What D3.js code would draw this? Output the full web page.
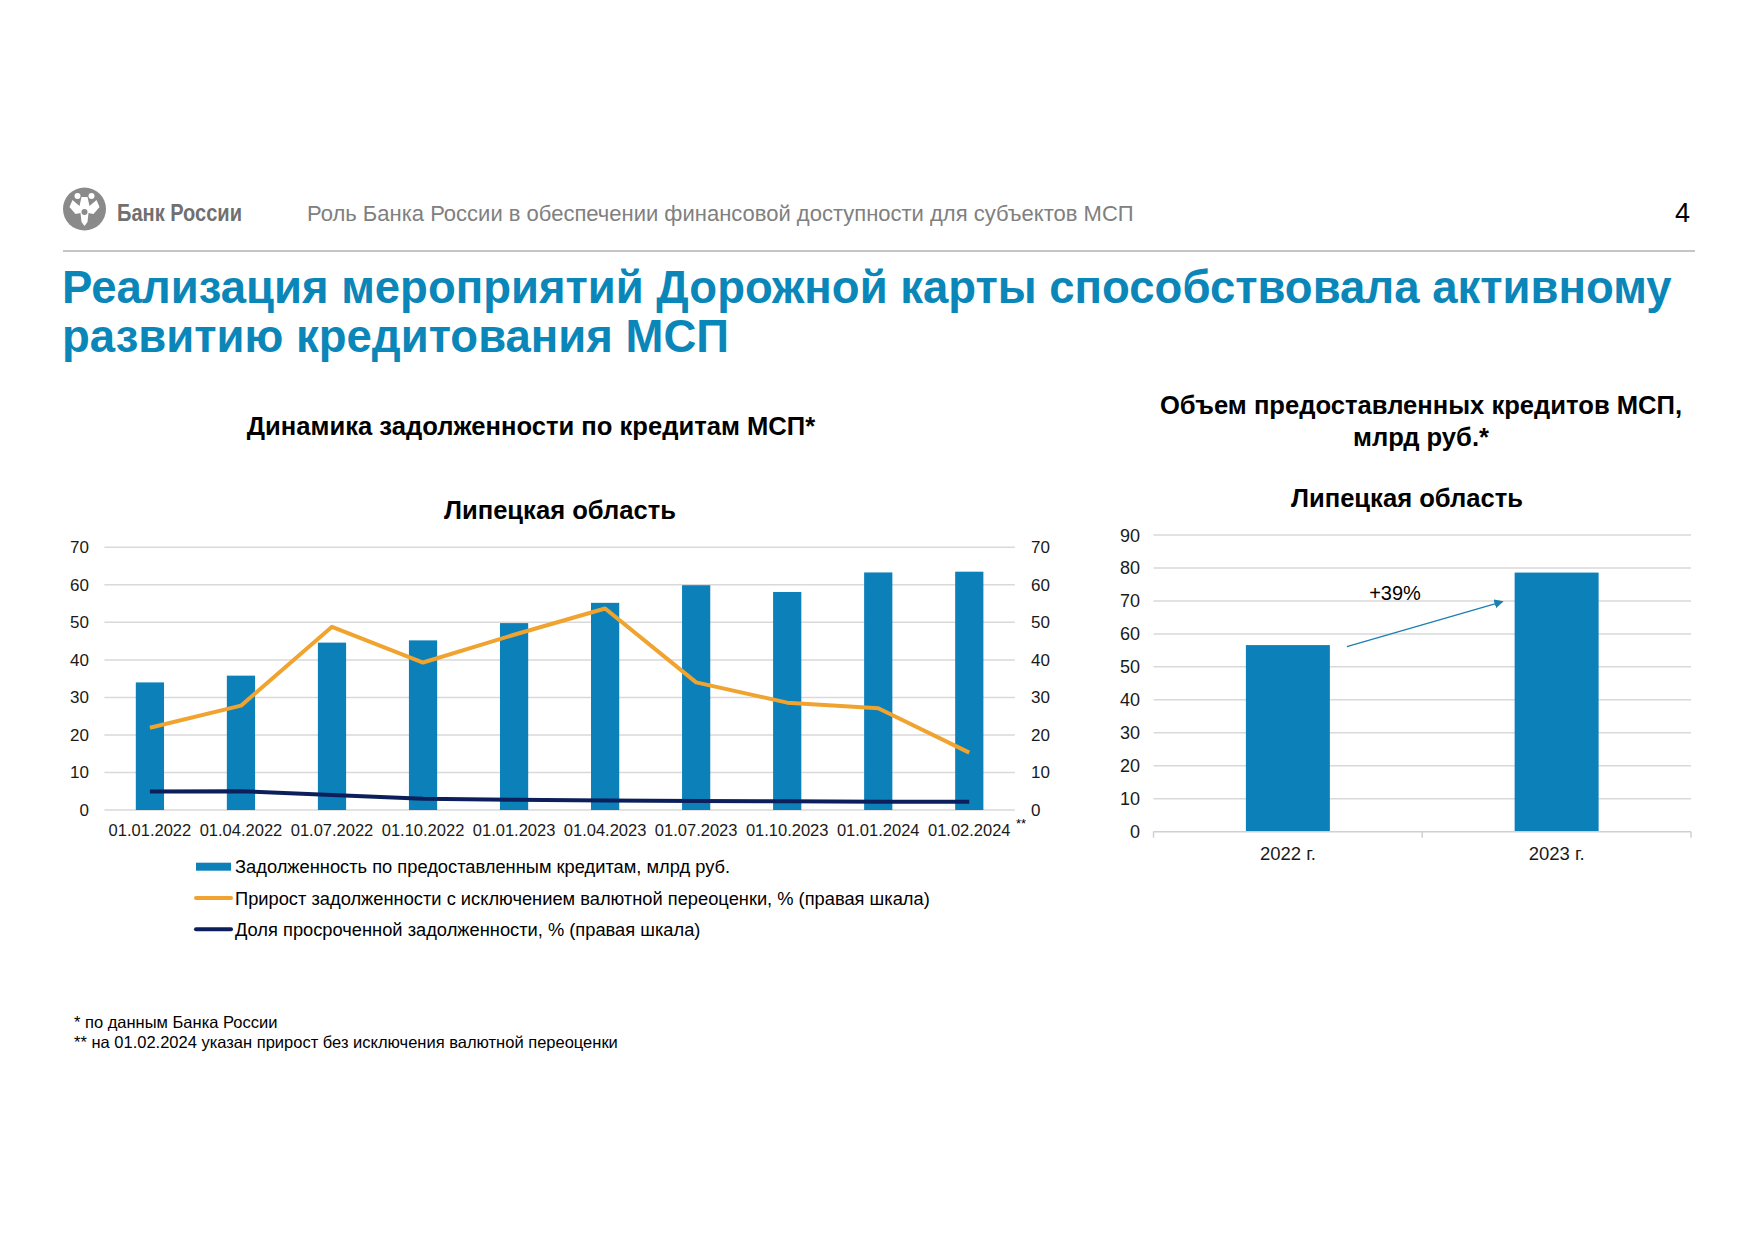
<!DOCTYPE html>
<html lang="ru">
<head>
  <meta charset="UTF-8">
  <script src="https://d3js.org/d3.v7.min.js"></script>
  <style>
body { margin: 0; background: #fff; }
svg { display: block; font-family: "Liberation Sans", Arial, sans-serif; }
.grid line { stroke: #d9d9d9; stroke-width: 1.5px; }
.tick-label { font-size: 17px; fill: #1a1a1a; }
.ttl { font-weight: bold; fill: #000; font-size: 25.6px; }
</style>
</head>
<body>
<svg width="1755" height="1240"></svg>
<script>
// левый график: задолженность МСП, Липецкая область
const dates = ["01.01.2022", "01.04.2022", "01.07.2022", "01.10.2022", "01.01.2023",
  "01.04.2023", "01.07.2023", "01.10.2023", "01.01.2024", "01.02.2024"];
const debt = [34.0, 35.8, 44.6, 45.2, 49.8, 55.2, 59.9, 58.1, 63.3, 63.5];     // млрд руб.
const growth = [21.9, 27.8, 48.8, 39.3, 46.7, 53.7, 34.0, 28.6, 27.1, 15.3];   // %, правая шкала
const overdue = [4.9, 5.0, 4.0, 3.0, 2.7, 2.5, 2.4, 2.3, 2.2, 2.2];            // %, правая шкала
const leftTicks = [0, 10, 20, 30, 40, 50, 60, 70];

// правый график: объем выданных кредитов
const years = ["2022 г.", "2023 г."];
const volume = [56.6, 78.6];
const rightTicks = [0, 10, 20, 30, 40, 50, 60, 70, 80, 90];

const legendItems = [
  {type: "bar", color: "#0b80b9", label: "Задолженность по предоставленным кредитам, млрд руб."},
  {type: "line", color: "#f0a32f", label: "Прирост задолженности с исключением валютной переоценки, % (правая шкала)"},
  {type: "line", color: "#0c1f5b", label: "Доля просроченной задолженности, % (правая шкала)"}
];

const blue = "#0b80b9", orange = "#f0a32f", navy = "#0c1f5b";
const svg = d3.select("svg");

// ---- шапка слайда ----
const logo = svg.append("g").attr("transform", "translate(84.5,209)");
logo.append("circle").attr("r", 21.5).attr("fill", "#8a8a8a");
// упрощенный двуглавый орел
logo.append("path").attr("fill", "#fff")
  .attr("d", "M-3,-12 L3,-12 L5,-3 L12,-9 L15,-2 L9,5 L4,4 L3,13 L0,17 L-3,13 L-4,4 L-9,5 L-15,-2 L-12,-9 L-5,-3 Z");
logo.append("circle").attr("cx", -7).attr("cy", -13).attr("r", 3).attr("fill", "#fff");
logo.append("circle").attr("cx", 7).attr("cy", -13).attr("r", 3).attr("fill", "#fff");
logo.append("circle").attr("cx", 0).attr("cy", 3).attr("r", 3).attr("fill", "#8a8a8a");

svg.append("text").attr("x", 117).attr("y", 221)
  .attr("textLength", 125).attr("lengthAdjust", "spacingAndGlyphs")
  .style("font-size", "24px").style("font-weight", "bold").style("fill", "#707070").text("Банк России");

svg.append("text").attr("x", 307).attr("y", 221)
  .style("font-size", "22px").style("fill", "#808080")
  .text("Роль Банка России в обеспечении финансовой доступности для субъектов МСП");

svg.append("text").attr("x", 1690).attr("y", 222).attr("text-anchor", "end")
  .style("font-size", "27px").style("fill", "#000").text("4");

svg.append("line").attr("x1", 63).attr("x2", 1695).attr("y1", 251).attr("y2", 251)
  .attr("stroke", "#8c8c8c").attr("stroke-width", 1.2);

const title = svg.append("text").style("font-size", "45.5px").style("font-weight", "bold").style("fill", "#0b86b8");
title.append("tspan").attr("x", 62).attr("y", 303).text("Реализация мероприятий Дорожной карты способствовала активному");
title.append("tspan").attr("x", 62).attr("y", 352).text("развитию кредитования МСП");

// ---- левый график ----
const x1 = d3.scaleBand().domain(dates).range([104.4, 1014.8]).paddingInner(0.69).paddingOuter(0.345);
const y1 = d3.scaleLinear().domain([0, 70]).range([810, 547.3]);

svg.append("text").attr("class", "ttl").attr("x", 531).attr("y", 435).attr("text-anchor", "middle")
  .text("Динамика задолженности по кредитам МСП*");
svg.append("text").attr("class", "ttl").attr("x", 560).attr("y", 519).attr("text-anchor", "middle")
  .text("Липецкая область");

svg.append("g").attr("class", "grid")
  .selectAll("line").data(leftTicks).join("line")
  .attr("x1", 104.4).attr("x2", 1014.8)
  .attr("y1", d => y1(d)).attr("y2", d => y1(d));

svg.append("g").selectAll("text").data(leftTicks).join("text")
  .attr("class", "tick-label").attr("x", 89).attr("y", d => y1(d) + 6).attr("text-anchor", "end")
  .text(d => d);
svg.append("g").selectAll("text").data(leftTicks).join("text")
  .attr("class", "tick-label").attr("x", 1031).attr("y", d => y1(d) + 6)
  .text(d => d);

svg.append("g").selectAll("rect").data(debt).join("rect")
  .attr("x", (d, i) => x1(dates[i])).attr("width", x1.bandwidth())
  .attr("y", d => y1(d)).attr("height", d => y1(0) - y1(d))
  .attr("fill", blue);

const line1 = d3.line().x((d, i) => x1(dates[i]) + x1.bandwidth() / 2).y(d => y1(d));
svg.append("path").datum(growth).attr("d", line1)
  .attr("fill", "none").attr("stroke", orange).attr("stroke-width", 4).attr("stroke-linejoin", "round");
svg.append("path").datum(overdue).attr("d", line1)
  .attr("fill", "none").attr("stroke", navy).attr("stroke-width", 4).attr("stroke-linejoin", "round");

svg.append("g").selectAll("text").data(dates).join("text")
  .attr("class", "tick-label").attr("x", d => x1(d) + x1.bandwidth() / 2).attr("y", 836)
  .attr("text-anchor", "middle").style("font-size", "16.5px").text(d => d);
svg.append("text").attr("x", 1016).attr("y", 828).style("font-size", "13px").text("**");

// легенда
const leg = svg.append("g").selectAll("g").data(legendItems).join("g")
  .attr("transform", (d, i) => `translate(196,${866.7 + i * 31.3})`);
leg.filter(d => d.type === "bar").append("rect")
  .attr("x", 0).attr("y", -4).attr("width", 35).attr("height", 8).attr("fill", d => d.color);
leg.filter(d => d.type === "line").append("line")
  .attr("x1", 0).attr("x2", 35).attr("stroke", d => d.color).attr("stroke-width", 4).attr("stroke-linecap", "round");
leg.append("text").attr("x", 39).attr("y", 6.5).style("font-size", "18.3px").style("fill", "#000")
  .text(d => d.label);

// ---- правый график ----
const x2 = d3.scaleBand().domain(years).range([1153.5, 1691]).paddingInner(0.6875).paddingOuter(0.34375);
const y2 = d3.scaleLinear().domain([0, 90]).range([831.7, 535]);

const rt = svg.append("text").attr("class", "ttl").attr("text-anchor", "middle");
rt.append("tspan").attr("x", 1421).attr("y", 414).text("Объем предоставленных кредитов МСП,");
rt.append("tspan").attr("x", 1421).attr("y", 446).text("млрд руб.*");
svg.append("text").attr("class", "ttl").attr("x", 1407).attr("y", 507).attr("text-anchor", "middle")
  .text("Липецкая область");

svg.append("g").attr("class", "grid")
  .selectAll("line").data(rightTicks.filter(d => d > 0)).join("line")
  .attr("x1", 1153.5).attr("x2", 1691)
  .attr("y1", d => y2(d)).attr("y2", d => y2(d));

svg.append("g").selectAll("text").data(rightTicks).join("text")
  .attr("class", "tick-label").attr("x", 1140).attr("y", d => y2(d) + 6.5).attr("text-anchor", "end")
  .style("font-size", "18px").text(d => d);

svg.append("g").selectAll("rect").data(volume).join("rect")
  .attr("x", (d, i) => x2(years[i])).attr("width", x2.bandwidth())
  .attr("y", d => y2(d)).attr("height", d => y2(0) - y2(d))
  .attr("fill", blue);

// ось X с делениями по границам категорий
const xAxis = svg.append("g").attr("stroke", "#d0d0d0").attr("stroke-width", 1.5);
xAxis.append("line").attr("x1", 1153.5).attr("x2", 1691).attr("y1", y2(0)).attr("y2", y2(0));
const bounds = [1153.5].concat(years.map(d => x2(d) + x2.bandwidth() + x2.step() * x2.paddingInner() / 2));
xAxis.selectAll(".tk").data(bounds).join("line").attr("class", "tk")
  .attr("x1", d => d).attr("x2", d => d).attr("y1", y2(0)).attr("y2", y2(0) + 6);

svg.append("g").selectAll("text").data(years).join("text")
  .attr("class", "tick-label").attr("x", d => x2(d) + x2.bandwidth() / 2).attr("y", 860)
  .attr("text-anchor", "middle").style("font-size", "18.5px").text(d => d);

// стрелка прироста
svg.append("defs").append("marker").attr("id", "arr")
  .attr("viewBox", "0 0 10 10").attr("refX", 9).attr("refY", 5)
  .attr("markerWidth", 7).attr("markerHeight", 7).attr("orient", "auto")
  .append("path").attr("d", "M0,0 L10,5 L0,10 Z").attr("fill", "#1b7fb0");
svg.append("line")
  .attr("x1", x2(years[0]) + x2.bandwidth() + 17).attr("y1", y2(volume[0]) + 1.5)
  .attr("x2", x2(years[1]) - 12).attr("y2", y2(69.8))
  .attr("stroke", "#1b7fb0").attr("stroke-width", 1.3).attr("marker-end", "url(#arr)");
svg.append("text").attr("x", 1395).attr("y", 600).attr("text-anchor", "middle")
  .style("font-size", "20px").text("+" + Math.round((volume[1] / volume[0] - 1) * 100) + "%");

// сноски
svg.append("text").attr("x", 74).attr("y", 1028).style("font-size", "16.5px")
  .text("* по данным Банка России");
svg.append("text").attr("x", 74).attr("y", 1048).style("font-size", "16.5px")
  .text("** на 01.02.2024 указан прирост без исключения валютной переоценки");
</script>
</body>
</html>
